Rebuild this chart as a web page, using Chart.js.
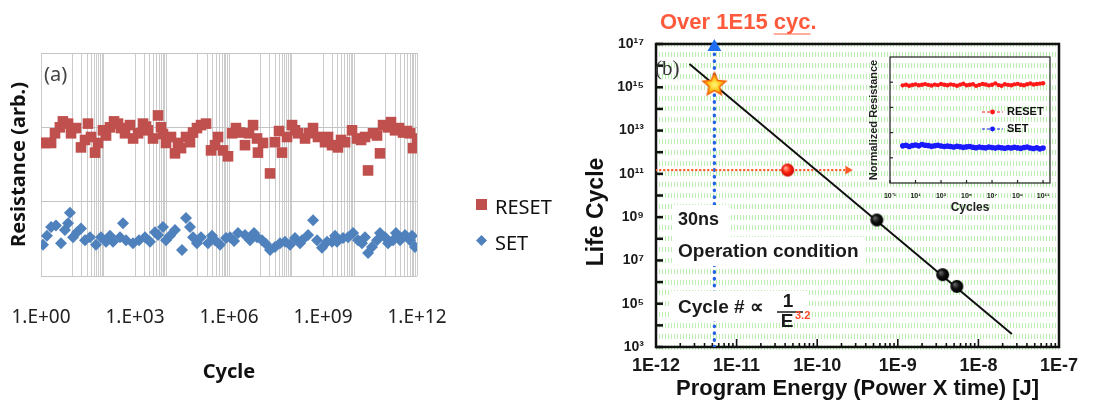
<!DOCTYPE html>
<html>
<head>
<meta charset="utf-8">
<title>Endurance vs program energy</title>
<script src="https://cdn.jsdelivr.net/npm/chart.js@4.4.1/dist/chart.umd.min.js"></script>
<style>
  body { margin: 0; background: #fff; }
  #page { position: relative; width: 1095px; height: 408px; overflow: hidden; }
  #page canvas { position: absolute; }
</style>
</head>
<body>
<div id="page">
  <canvas id="chartA" width="560" height="408" style="left:0;top:0"></canvas>
  <canvas id="chartB" width="535" height="408" style="left:560px;top:0"></canvas>
  <canvas id="chartInset" width="200" height="165" style="left:860px;top:50px"></canvas>
</div>
<script>
// ---------- panel (a): resistance vs cycle ----------
const cycleTickValues = [1, 1e3, 1e6, 1e9, 1e12];
const cycleTickLabels = ['1.E+00', '1.E+03', '1.E+06', '1.E+09', '1.E+12'];

const resetCycles = [1, 1.44, 2.1, 2.8, 4.0, 5.0, 7.3, 9.1, 13.1, 18.9, 25.4, 31.6, 39.4, 53, 66, 95,
  119, 159, 214, 287, 357, 479, 692, 871, 1255, 1800, 2245, 2600, 3760, 5420, 6760, 7830, 9770,
  1.41e4, 1.89e4, 2.36e4, 2.94e4, 4.25e4, 5.7e4, 7.11e4, 9.5e4, 1.28e5, 1.85e5, 2.67e5, 3.58e5,
  4.46e5, 6.44e5, 9.31e5, 1.25e6, 1.67e6, 2.25e6, 3.24e6, 4.36e6, 5.85e6, 7.84e6, 8.4e6, 1.22e7,
  2.04e7, 2.94e7, 3.95e7, 4.92e7, 7.11e7, 1.03e8, 1.28e8, 1.6e8, 2.67e8, 3.58e8, 4.8e8, 6.9e8,
  1.16e9, 1.45e9, 1.94e9, 3.0e9, 3.76e9, 5.05e9, 8.45e9, 1.22e10, 1.64e10, 2.19e10, 2.74e10,
  3.95e10, 5.3e10, 6.6e10, 8.24e10, 1.19e11, 1.48e11, 1.99e11, 2.67e11, 3.58e11, 4.81e11, 6.0e11,
  7.48e11, 1.0e12];
const resetResistance = [1.79, 1.79, 1.79, 1.92, 2.0, 2.08, 2.05, 1.92, 1.99, 1.73, 1.83, 2.05, 1.87,
  1.66, 1.79, 1.96, 1.89, 2.0, 2.08, 2.05, 1.99, 1.92, 2.03, 1.85, 1.92, 2.05, 2.01, 1.96, 1.85, 2.16,
  2.0, 1.91, 1.79, 1.87, 1.65, 1.79, 1.72, 1.87, 1.80, 1.93, 1.99, 2.03, 2.05, 1.69, 1.76, 1.87, 1.69,
  1.61, 1.92, 1.99, 1.93, 1.76, 1.92, 2.03, 1.85, 1.66, 1.79, 1.38, 1.80, 1.95, 1.66, 1.87, 2.03,
  1.96, 1.92, 1.85, 1.92, 1.99, 1.87, 1.80, 1.87, 1.76, 1.73, 1.83, 1.80, 1.96, 1.85, 1.83, 1.87,
  1.42, 1.92, 1.89, 1.65, 2.03, 2.0, 2.07, 1.96, 1.99, 1.93, 1.95, 1.92, 1.72, 1.85];

const setCycles = [1.16, 1.55, 2.1, 3.0, 4.35, 5.8, 7.3, 8.4, 10.5, 14.1, 18.9, 25.4, 36.6, 56.9, 82.2,
  119, 159, 199, 332, 414, 517, 864, 1340, 2085, 3010, 4350, 5420, 7830, 9770, 1.31e4, 1.89e4,
  3.16e4, 4.25e4, 5.7e4, 7.11e4, 9.5e4, 1.28e5, 2.14e5, 2.87e5, 3.58e5, 5.17e5, 8.03e5, 1.08e6,
  1.45e6, 1.94e6, 3.24e6, 4.69e6, 6.28e6, 7.84e6, 1.13e7, 1.52e7, 2.04e7, 2.94e7, 4.25e7, 6.14e7,
  8.87e7, 1.28e8, 1.85e8, 2.14e8, 3.33e8, 4.81e8, 6.45e8, 9.3e8, 1.35e9, 1.94e9, 2.42e9, 2.8e9,
  4.36e9, 6.3e9, 9.1e9, 1.31e10, 1.76e10, 2.19e10, 2.74e10, 3.67e10, 5.3e10, 6.6e10, 9.55e10,
  1.19e11, 1.72e11, 2.14e11, 2.88e11, 4.15e11, 6.0e11, 6.95e11, 8.65e11];
const setResistance = [0.42, 0.54, 0.66, 0.68, 0.44, 0.62, 0.71, 0.85, 0.52, 0.59, 0.64, 0.48, 0.52,
  0.42, 0.52, 0.46, 0.54, 0.46, 0.52, 0.71, 0.48, 0.44, 0.48, 0.52, 0.46, 0.59, 0.55, 0.66, 0.48,
  0.54, 0.62, 0.35, 0.78, 0.66, 0.52, 0.44, 0.52, 0.44, 0.54, 0.48, 0.42, 0.51, 0.52, 0.47, 0.58,
  0.55, 0.48, 0.58, 0.52, 0.48, 0.43, 0.35, 0.39, 0.44, 0.46, 0.42, 0.51, 0.44, 0.48, 0.55, 0.75,
  0.48, 0.38, 0.46, 0.46, 0.54, 0.46, 0.51, 0.52, 0.58, 0.48, 0.44, 0.52, 0.31, 0.39, 0.48, 0.58,
  0.52, 0.44, 0.48, 0.58, 0.48, 0.55, 0.48, 0.54, 0.39];

// ---------- panel (b): life cycle vs program energy ----------
const energyTickValues = [1e-12, 1e-11, 1e-10, 1e-9, 1e-8, 1e-7];
const energyTickLabels = ['1E-12', '1E-11', '1E-10', '1E-9', '1E-8', '1E-7'];
const lifeTickValues = [1e3, 1e5, 1e7, 1e9, 1e11, 1e13, 1e15, 1e17];
const lifeTickLabels = ['10³', '10⁵', '10⁷', '10⁹', '10¹¹', '10¹³', '10¹⁵', '10¹⁷'];

const fitEnergy = [2.6e-12, 2.6e-8];
const fitCycles = [1.2e16, 4e3];
const measEnergy = [5.5e-10, 3.6e-9, 5.4e-9];
const measCycles = [7.4e8, 2.2e6, 6.3e5];
const targetEnergy = [5.3e-12];
const targetCycles = [1.3e15];
const opEnergy = [4.3e-11];
const opCycles = [1.5e11];
const guideCyclesLine = [1.5e11, 1.5e11];
const guideCyclesEnergy = [1e-12, 2.2e-10];
const arrowEnergy = [2.4e-10];
const guideEnergyLine = [5.3e-12, 5.3e-12];
const guideEnergyCycles = [1e3, 7.3e16];

// ---------- inset ----------
const insetTickValues = [0.1, 10, 1e3, 1e5, 1e7, 1e9, 1e11];
const insetTickLabels = ['10⁻¹', '10¹', '10³', '10⁵', '10⁷', '10⁹', '10¹¹'];
const insetCycles = [1, 1.8, 3.2, 5.6, 10, 18, 32, 56, 100, 180, 320, 560, 1e3, 1.8e3, 3.2e3, 5.6e3,
  1e4, 1.8e4, 3.2e4, 5.6e4, 1e5, 1.8e5, 3.2e5, 5.6e5, 1e6, 1.8e6, 3.2e6, 5.6e6, 1e7, 1.8e7, 3.2e7,
  5.6e7, 1e8, 1.8e8, 3.2e8, 5.6e8, 1e9, 1.8e9, 3.2e9, 5.6e9, 1e10, 1.8e10, 3.2e10, 5.6e10, 1e11];
const insetReset = [0.775, 0.78, 0.772, 0.778, 0.783, 0.776, 0.78, 0.785, 0.779, 0.774, 0.781, 0.777,
  0.786, 0.78, 0.776, 0.783, 0.779, 0.772, 0.781, 0.788, 0.776, 0.78, 0.784, 0.771, 0.779, 0.786,
  0.782, 0.775, 0.78, 0.791, 0.777, 0.772, 0.784, 0.779, 0.776, 0.783, 0.787, 0.78, 0.776, 0.784,
  0.79, 0.782, 0.786, 0.789, 0.792];
const insetSet = [0.295, 0.3, 0.29, 0.298, 0.302, 0.295, 0.305, 0.3, 0.297, 0.291, 0.296, 0.3, 0.294,
  0.289, 0.293, 0.29, 0.286, 0.292, 0.288, 0.283, 0.287, 0.29, 0.284, 0.28, 0.286, 0.282, 0.279,
  0.285, 0.281, 0.277, 0.283, 0.28, 0.276, 0.282, 0.278, 0.284, 0.279, 0.275, 0.281, 0.286, 0.278,
  0.274, 0.28, 0.271, 0.277];

const resetColor = '#C0504D';
const setColor = '#4F81BD';

Chart.defaults.animation = false;

function zip(xs, ys) {
    return xs.map((x, i) => ({x: x, y: ys[i]}));
}

function labelFor(values, labels) {
    return v => {
        const i = values.findIndex(t => Math.abs(t - v) / t < 1e-6);
        return i >= 0 ? labels[i] : '';
    };
}

// decades, with 2..9 minors only in odd decades (as in the excel plot)
function cycleGridTicks() {
    const out = [];
    for (let e = 0; e < 12; e++) {
        out.push(Math.pow(10, e));
        if (e % 2 === 1) for (let k = 2; k <= 9; k++) out.push(k * Math.pow(10, e));
    }
    out.push(1e12);
    return out.map(v => ({value: v}));
}

function line(ctx, x1, y1, x2, y2) {
    ctx.beginPath();
    ctx.moveTo(x1, y1);
    ctx.lineTo(x2, y2);
    ctx.stroke();
}

// legend + (a) tag, drawn on the canvas
const panelADecor = {
    id: 'panelADecor',
    afterDraw(chart) {
        const ctx = chart.ctx;
        ctx.save();
        ctx.fillStyle = '#444';
        ctx.font = '20px "Noto Sans"';
        ctx.textBaseline = 'middle';
        ctx.fillText('(a)', 44, 75);

        ctx.fillStyle = resetColor;
        ctx.fillRect(476, 199, 11, 11);
        ctx.fillStyle = setColor;
        ctx.beginPath();
        ctx.moveTo(481.5, 235); ctx.lineTo(487, 240.5); ctx.lineTo(481.5, 246); ctx.lineTo(476, 240.5);
        ctx.closePath();
        ctx.fill();

        ctx.fillStyle = '#111';
        ctx.font = '20px "Noto Sans"';
        ctx.fillText('RESET', 495, 208);
        ctx.fillText('SET', 495, 244);
        ctx.restore();
    }
};

new Chart(document.getElementById('chartA'), {
    type: 'scatter',
    data: {
        datasets: [{
            label: 'RESET',
            data: zip(resetCycles, resetResistance),
            pointStyle: 'rect',
            pointRadius: 7.5,
            pointBorderWidth: 0,
            backgroundColor: resetColor
        }, {
            label: 'SET',
            data: zip(setCycles, setResistance),
            pointStyle: 'rectRot',
            pointRadius: 6,
            pointBorderWidth: 0,
            backgroundColor: setColor
        }]
    },
    options: {
        responsive: false,
        layout: {padding: {left: 0, right: 143, top: 53, bottom: 0}},
        plugins: {legend: {display: false}, tooltip: {enabled: false}},
        scales: {
            x: {
                type: 'logarithmic',
                min: 1,
                max: 1e12,
                afterBuildTicks: s => { s.ticks = cycleGridTicks(); },
                afterFit: s => { s.height = 132; },
                grid: {color: '#cccccc', drawTicks: true, tickLength: 30, tickColor: 'rgba(0,0,0,0)'},
                border: {display: false},
                ticks: {
                    autoSkip: false,
                    maxRotation: 0,
                    padding: 0,
                    color: '#222',
                    font: {family: 'Noto Sans', size: 19},
                    callback: labelFor(cycleTickValues, cycleTickLabels)
                },
                title: {
                    display: true,
                    text: 'Cycle',
                    color: '#111',
                    font: {family: 'Noto Sans', size: 20, weight: 'bold'},
                    padding: {top: 0, bottom: 24}
                }
            },
            y: {
                min: 0,
                max: 3,
                afterFit: s => { s.width = 41; },
                grid: {color: '#c4c4c4', drawTicks: false},
                border: {display: false},
                ticks: {stepSize: 1, display: false},
                title: {
                    display: true,
                    text: 'Resistance (arb.)',
                    color: '#111',
                    font: {family: 'Noto Sans', size: 20, weight: 'bold'},
                    padding: {top: 7, bottom: 0}
                }
            }
        }
    },
    plugins: [panelADecor]
});

// ---------- point images for panel (b) ----------
function makeStar(r) {
    const c = document.createElement('canvas');
    c.width = c.height = r * 2 + 4;
    const g = c.getContext('2d');
    const cx = r + 2, cy = r + 2;
    g.beginPath();
    for (let i = 0; i < 10; i++) {
        const rad = i % 2 === 0 ? r : r * 0.46;
        const a = -Math.PI / 2 + i * Math.PI / 5;
        g.lineTo(cx + rad * Math.cos(a), cy + rad * Math.sin(a));
    }
    g.closePath();
    const grad = g.createRadialGradient(cx, cy, 1, cx, cy, r);
    grad.addColorStop(0, '#fff36a');
    grad.addColorStop(0.45, '#ffc619');
    grad.addColorStop(1, '#ff7b00');
    g.fillStyle = grad;
    g.fill();
    g.lineWidth = 1.5;
    g.strokeStyle = '#f26000';
    g.stroke();
    return c;
}

function makeBall(r, light, mid, dark) {
    const c = document.createElement('canvas');
    c.width = c.height = r * 2 + 2;
    const g = c.getContext('2d');
    const cx = r + 1, cy = r + 1;
    const grad = g.createRadialGradient(cx - r * 0.35, cy - r * 0.35, 0.5, cx, cy, r);
    grad.addColorStop(0, light);
    grad.addColorStop(0.5, mid);
    grad.addColorStop(1, dark);
    g.fillStyle = grad;
    g.beginPath();
    g.arc(cx, cy, r, 0, Math.PI * 2);
    g.fill();
    return c;
}

const starImg = makeStar(12);
const redBall = makeBall(6.5, '#ffb19a', '#ff2a10', '#c80000');
const blackBall = makeBall(6.5, '#666', '#111', '#000');

function lifeGridTicks() {
    const out = [];
    for (let e = 3; e < 17; e++) {
        out.push(Math.pow(10, e));
        out.push(3.16 * Math.pow(10, e));
    }
    out.push(1e17);
    return out.map(v => ({value: v}));
}

const panelBDecor = {
    id: 'panelBDecor',
    beforeDatasetsDraw(chart) {
        const {ctx, chartArea: a, scales: {x, y}} = chart;
        ctx.save();
        ctx.strokeStyle = '#111';
        ctx.lineWidth = 2.5;
        for (let e = 3; e <= 17; e++) {
            const py = y.getPixelForValue(Math.pow(10, e));
            line(ctx, a.left, py, a.left + 7, py);
        }
        ctx.lineWidth = 1.6;
        for (let e = -12; e < -7; e++) {
            for (let k = 1; k <= 9; k++) {
                const px = x.getPixelForValue(k * Math.pow(10, e));
                line(ctx, px, a.bottom, px, a.bottom - (k === 1 ? 8 : 4));
            }
        }
        ctx.lineWidth = 2.5;
        ctx.strokeRect(a.left, a.top, a.right - a.left, a.bottom - a.top);
        ctx.restore();
    },
    afterDatasetsDraw(chart) {
        const ctx = chart.ctx;
        ctx.save();
        ctx.textBaseline = 'middle';

        // title above the plot
        ctx.fillStyle = '#ff5a3c';
        ctx.font = 'bold 22px "Liberation Sans"';
        ctx.fillText('Over 1E15 cyc.', 100, 23);
        const w0 = ctx.measureText('Over 1E15 ').width;
        const w1 = ctx.measureText('cyc').width;
        ctx.strokeStyle = '#ff5a3c';
        ctx.lineWidth = 1;
        line(ctx, 100 + w0, 34, 100 + w0 + w1, 34);

        // y title
        ctx.fillStyle = '#111';
        ctx.font = 'bold 23px "Liberation Sans"';
        ctx.save();
        ctx.translate(37, 212);
        ctx.rotate(-Math.PI / 2);
        ctx.textAlign = 'center';
        ctx.fillText('Life Cycle', 0, 0);
        ctx.restore();

        ctx.fillStyle = '#333';
        ctx.font = '21px "Liberation Serif"';
        ctx.fillText('(b)', 95, 69);

        // white label boxes
        ctx.fillStyle = '#fff';
        ctx.fillRect(113, 205, 57, 32);
        ctx.fillRect(113, 237, 193, 29);
        ctx.fillRect(110, 291, 138, 30);

        ctx.fillStyle = '#1a1a1a';
        ctx.font = 'bold 18px "Liberation Sans"';
        ctx.fillText('30ns', 118, 220);
        ctx.font = 'bold 19px "Liberation Sans"';
        ctx.fillText('Operation condition', 118, 252);
        ctx.fillText('Cycle # \u221D', 118, 308);
        ctx.textAlign = 'center';
        ctx.fillText('1', 228, 302);
        ctx.fillText('E', 227, 322);
        ctx.lineWidth = 1.5;
        ctx.strokeStyle = '#1a1a1a';
        line(ctx, 217, 312, 243, 312);
        ctx.textAlign = 'left';
        ctx.fillStyle = '#ff4a2a';
        ctx.font = 'bold 11px "Liberation Sans"';
        ctx.fillText('3.2', 235, 316);
        ctx.restore();
    }
};

new Chart(document.getElementById('chartB'), {
    type: 'scatter',
    data: {
        datasets: [{
            label: 'target',
            data: zip(targetEnergy, targetCycles),
            pointStyle: starImg,
            pointRadius: 12
        }, {
            label: 'operation',
            data: zip(opEnergy, opCycles),
            pointStyle: redBall,
            pointRadius: 7
        }, {
            label: 'measured',
            data: zip(measEnergy, measCycles),
            pointStyle: blackBall,
            pointRadius: 7
        }, {
            label: 'fit',
            data: zip(fitEnergy, fitCycles),
            showLine: true,
            borderColor: '#111',
            borderWidth: 2,
            pointRadius: 0
        }, {
            label: 'arrow',
            data: zip(arrowEnergy, [guideCyclesLine[0]]),
            pointStyle: 'triangle',
            rotation: 90,
            pointRadius: 5,
            pointBorderWidth: 0,
            backgroundColor: '#ff5a28'
        }, {
            label: 'cycle guide',
            data: zip(guideCyclesEnergy, guideCyclesLine),
            showLine: true,
            borderColor: '#ff5a28',
            borderWidth: 2.2,
            borderCapStyle: 'round',
            borderDash: [0.5, 3.5],
            pointRadius: 0
        }, {
            label: 'top arrow',
            data: zip([guideEnergyLine[1]], [guideEnergyCycles[1]]),
            pointStyle: 'triangle',
            pointRadius: 8,
            pointBorderWidth: 0,
            backgroundColor: '#1e6ef0',
            clip: false
        }, {
            label: 'energy guide',
            data: zip(guideEnergyLine, guideEnergyCycles),
            showLine: true,
            borderColor: '#2463e6',
            borderWidth: 3.4,
            borderCapStyle: 'round',
            borderDash: [0.5, 6.3],
            pointRadius: 0
        }]
    },
    options: {
        responsive: false,
        layout: {padding: {left: 0, right: 36, top: 44, bottom: 0}},
        plugins: {legend: {display: false}, tooltip: {enabled: false}},
        scales: {
            x: {
                type: 'logarithmic',
                min: 1e-12,
                max: 1e-7,
                afterBuildTicks: s => { s.ticks = energyTickValues.map(v => ({value: v})); },
                afterFit: s => { s.height = 61; },
                grid: {display: false},
                border: {display: false},
                ticks: {
                    autoSkip: false,
                    maxRotation: 0,
                    padding: 0,
                    color: '#1a1a1a',
                    font: {family: 'Liberation Sans', size: 18, weight: 'bold'},
                    callback: labelFor(energyTickValues, energyTickLabels)
                },
                title: {
                    display: true,
                    text: 'Program Energy (Power X time) [J]',
                    color: '#111',
                    font: {family: 'Liberation Sans', size: 22, weight: 'bold'},
                    padding: {top: 0, bottom: 6}
                }
            },
            y: {
                type: 'logarithmic',
                min: 1e3,
                max: 1e17,
                afterBuildTicks: s => { s.ticks = lifeGridTicks(); },
                afterFit: s => { s.width = 96; },
                grid: {color: '#bdeeb2', lineWidth: 5, drawTicks: false},
                border: {display: false, dash: [1, 2]},
                ticks: {
                    autoSkip: false,
                    padding: 12,
                    color: '#1a1a1a',
                    font: {family: 'Liberation Sans', size: 14, weight: 'bold'},
                    callback: labelFor(lifeTickValues, lifeTickLabels)
                }
            }
        }
    },
    plugins: [panelBDecor]
});

// ---------- inset ----------
const insetDecor = {
    id: 'insetDecor',
    afterDraw(chart) {
        const {ctx, chartArea: a, scales: {x, y}} = chart;
        ctx.save();
        ctx.strokeStyle = '#222';
        ctx.lineWidth = 1.2;
        ctx.strokeRect(a.left, a.top, a.right - a.left, a.bottom - a.top);
        insetTickValues.forEach(v => {
            const px = x.getPixelForValue(v);
            line(ctx, px, a.bottom, px, a.bottom - 3);
        });
        [0.2, 0.4, 0.6, 0.8].forEach(v => {
            const py = y.getPixelForValue(v);
            line(ctx, a.left, py, a.left + 3, py);
        });
        ctx.textBaseline = 'middle';
        [['#ff1a1a', 'RESET', 62], ['#1a1aff', 'SET', 79]].forEach(([c, t, yy]) => {
            ctx.strokeStyle = c;
            ctx.setLineDash([3, 2]);
            ctx.lineWidth = 1.2;
            line(ctx, 122, yy, 143, yy);
            ctx.setLineDash([]);
            ctx.fillStyle = c;
            ctx.beginPath();
            ctx.arc(132.5, yy, 2.4, 0, Math.PI * 2);
            ctx.fill();
            ctx.fillStyle = '#111';
            ctx.font = 'bold 11px "Liberation Sans"';
            ctx.fillText(t, 147, yy);
        });
        ctx.restore();
    }
};

new Chart(document.getElementById('chartInset'), {
    type: 'scatter',
    data: {
        datasets: [{
            label: 'RESET',
            data: zip(insetCycles, insetReset),
            showLine: true,
            borderColor: '#ff1a1a',
            backgroundColor: '#ff1a1a',
            borderWidth: 1.6,
            pointRadius: 2.2,
            pointBorderWidth: 0
        }, {
            label: 'SET',
            data: zip(insetCycles, insetSet),
            showLine: true,
            borderColor: '#1a1aff',
            backgroundColor: '#1a1aff',
            borderWidth: 1.8,
            pointRadius: 2.8,
            pointBorderWidth: 0
        }]
    },
    options: {
        responsive: false,
        layout: {padding: {left: 0, right: 10, top: 7, bottom: 0}},
        plugins: {legend: {display: false}, tooltip: {enabled: false}},
        scales: {
            x: {
                type: 'logarithmic',
                min: 0.1,
                max: 3.5e11,
                afterBuildTicks: s => { s.ticks = insetTickValues.map(v => ({value: v})); },
                afterFit: s => { s.height = 32; },
                grid: {display: false},
                border: {display: false},
                ticks: {
                    autoSkip: false,
                    maxRotation: 0,
                    padding: 1,
                    color: '#222',
                    font: {family: 'Liberation Sans', size: 7, weight: 'bold'},
                    callback: labelFor(insetTickValues, insetTickLabels)
                },
                title: {
                    display: true,
                    text: 'Cycles',
                    color: '#222',
                    font: {family: 'Liberation Sans', size: 12, weight: 'bold'},
                    padding: {top: 0, bottom: 0}
                }
            },
            y: {
                min: 0,
                max: 1,
                afterFit: s => { s.width = 30; },
                grid: {display: false},
                border: {display: false},
                ticks: {display: false},
                title: {
                    display: true,
                    text: 'Normalized Resistance',
                    color: '#222',
                    font: {family: 'Liberation Sans', size: 11, weight: 'bold'},
                    padding: {top: 7, bottom: 0}
                }
            }
        }
    },
    plugins: [insetDecor]
});
</script>
</body>
</html>
